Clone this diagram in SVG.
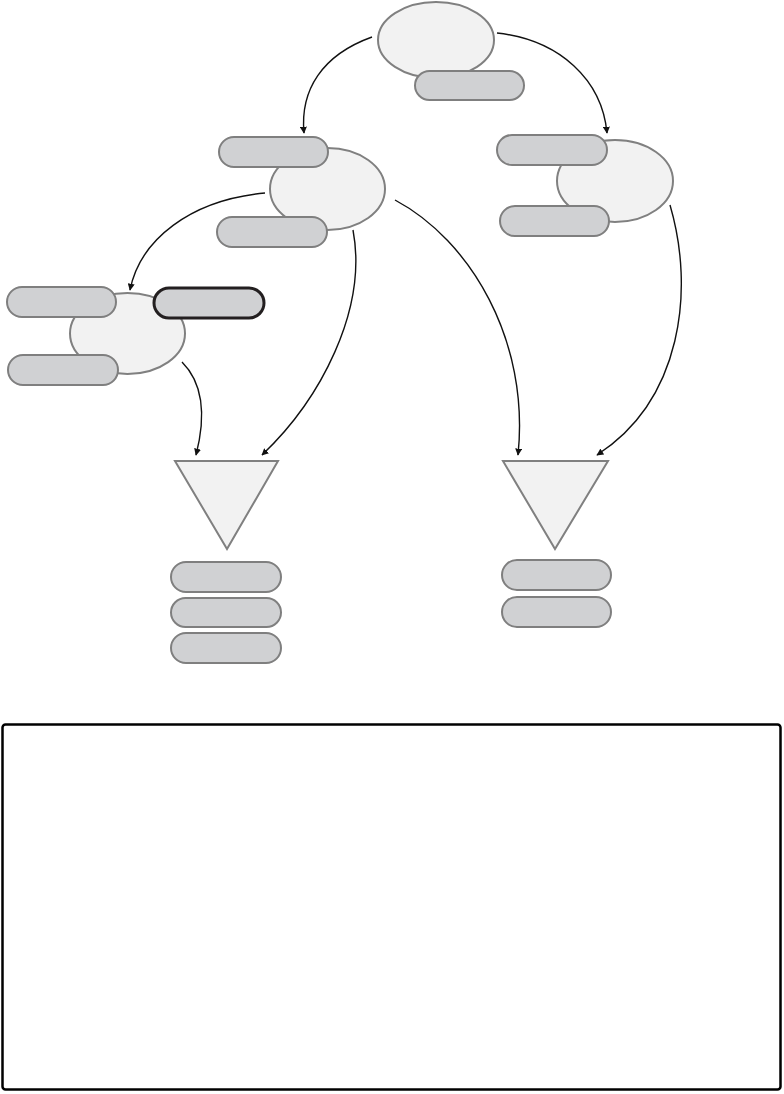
<svg xmlns="http://www.w3.org/2000/svg" width="784" height="1094" viewBox="0 0 784 1094">
<style>
.ell{fill:#f2f2f2;stroke:#808080;stroke-width:2}
.pill{fill:#d0d1d3;stroke:#7f7f7f;stroke-width:2}
.pill-dark{fill:#d0d1d3;stroke:#231f20;stroke-width:3}
.tri{fill:#f2f2f2;stroke:#808080;stroke-width:2}
.edge{fill:none;stroke:#111;stroke-width:1.4;marker-end:url(#arr)}
</style>
<defs>
<marker id="arr" viewBox="0 0 10 10" refX="9" refY="5" markerWidth="7" markerHeight="7" markerUnits="userSpaceOnUse" orient="auto">
<path d="M0,0 L10,5 L0,10 z" fill="#111"/>
</marker>
</defs>
<rect width="784" height="1094" fill="#fff"/>
<g id="connectors">
<path class="edge" d="M372,37 C322,55 300,90 304,133"/>
<path class="edge" d="M497,33 C560,40 602,80 607,133"/>
<path class="edge" d="M265,193 C190,200 140,240 130,290"/>
<path class="edge" d="M353,230 C368,310 320,400 262,455"/>
<path class="edge" d="M395,200 C470,240 530,340 518,455"/>
<path class="edge" d="M670,205 C695,290 682,400 597,455"/>
<path class="edge" d="M182,362 C205,385 205,420 196,455"/>
</g>
<g id="node-top">
<ellipse class="ell" cx="436" cy="40" rx="58" ry="38"/>
<rect class="pill" x="415" y="71" width="109" height="29" rx="14.5"/>
</g>
<g id="node-mid">
<ellipse class="ell" cx="327.5" cy="189" rx="57.5" ry="41"/>
<rect class="pill" x="219" y="137" width="109" height="30" rx="15"/>
<rect class="pill" x="217" y="217" width="110" height="30" rx="15"/>
</g>
<g id="node-right">
<ellipse class="ell" cx="615" cy="181" rx="58" ry="41"/>
<rect class="pill" x="497" y="135" width="110" height="30" rx="15"/>
<rect class="pill" x="500" y="206" width="109" height="30" rx="15"/>
</g>
<g id="node-left">
<ellipse class="ell" cx="127.5" cy="333.5" rx="57.5" ry="40.5"/>
<rect class="pill" x="7" y="287" width="109" height="30" rx="15"/>
<rect class="pill-dark" x="154" y="288" width="110" height="30" rx="15"/>
<rect class="pill" x="8" y="355" width="110" height="30" rx="15"/>
</g>
<g id="node-tri-left">
<polygon class="tri" points="175,461 278,461 227,549"/>
<rect class="pill" x="171" y="562" width="110" height="30" rx="15"/>
<rect class="pill" x="171" y="598" width="110" height="29" rx="14.5"/>
<rect class="pill" x="171" y="633" width="110" height="30" rx="15"/>
</g>
<g id="node-tri-right">
<polygon class="tri" points="503,461 608,461 555,549"/>
<rect class="pill" x="502" y="560" width="109" height="30" rx="15"/>
<rect class="pill" x="502" y="597" width="109" height="30" rx="15"/>
</g>
<g id="panel">
<rect x="2.5" y="724.5" width="778" height="365" rx="3" fill="#fff" stroke="#000" stroke-width="2.5"/>
</g>
</svg>
